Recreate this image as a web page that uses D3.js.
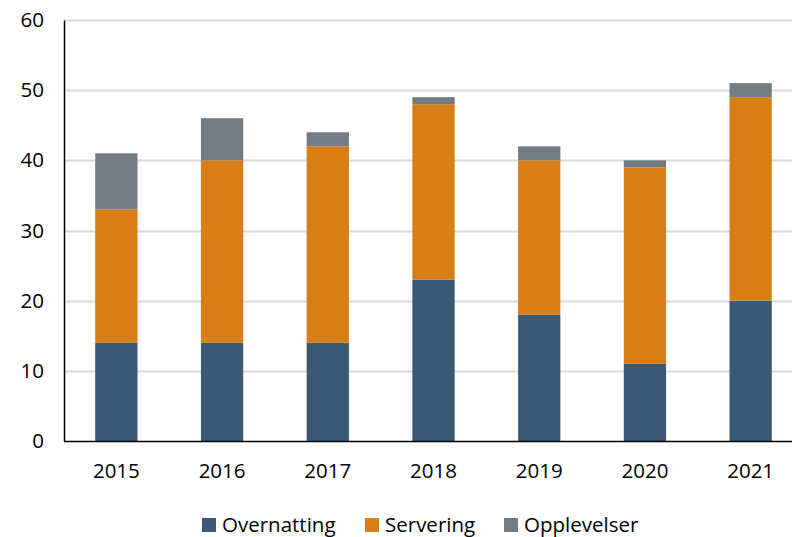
<!DOCTYPE html>
<html>
<head>
<meta charset="utf-8">
<script src="https://cdn.jsdelivr.net/npm/d3@7"></script>
<style>
  html, body { margin: 0; padding: 0; background: #fff; overflow: hidden; }
  svg { display: block; }
  text { font-family: "Open Sans", "Noto Sans", sans-serif; fill: #000; }
</style>
</head>
<body>
<svg id="chart" width="792" height="537"></svg>
<script>
// Years on the x axis
const years = ["2015", "2016", "2017", "2018", "2019", "2020", "2021"];
// Stacked series values
const overnatting = [14, 14, 14, 23, 18, 11, 20];
const servering   = [19, 26, 28, 25, 22, 28, 29];
const opplevelser = [8, 6, 2, 1, 2, 1, 2];
const seriesNames  = ["Overnatting", "Servering", "Opplevelser"];
const seriesColors = ["#3b5876", "#d87e17", "#737b83"];
const yTicks = [0, 10, 20, 30, 40, 50, 60];

const svg = d3.select("#chart");
const plotBottom = 441, plotTop = 20;
const fontSize = 20.5;

const rows = years.map((y, i) => ({
  year: y,
  Overnatting: overnatting[i],
  Servering: servering[i],
  Opplevelser: opplevelser[i]
}));

const x = d3.scaleBand().domain(years).range([63.5, 803.5]).paddingInner(0.6).paddingOuter(0.3);
const y = d3.scaleLinear().domain([0, 60]).range([plotBottom, plotTop]);
const color = d3.scaleOrdinal().domain(seriesNames).range(seriesColors);

// Horizontal gridlines
svg.append("g")
  .selectAll("line")
  .data(yTicks.filter(t => t > 0))
  .join("line")
  .attr("x1", 64).attr("x2", 792)
  .attr("y1", d => Math.round(y(d)) + 0.5).attr("y2", d => Math.round(y(d)) + 0.5)
  .attr("stroke", "#d9d9d9").attr("stroke-width", 2);

// Stacked bars
const stack = d3.stack().keys(seriesNames)(rows);
svg.append("g")
  .selectAll("g")
  .data(stack)
  .join("g")
  .attr("fill", d => color(d.key))
  .selectAll("rect")
  .data(d => d)
  .join("rect")
  .attr("x", d => x(d.data.year))
  .attr("width", x.bandwidth())
  .attr("y", d => y(d[1]))
  .attr("height", d => y(d[0]) - y(d[1]));

// Y axis
const yAxis = d3.axisLeft(y).tickValues(yTicks).tickSize(0).tickPadding(20);
const gy = svg.append("g").attr("transform", "translate(64,0)").call(yAxis);
gy.select(".domain").attr("stroke", "#000").attr("stroke-width", 1.5);
gy.selectAll("text").attr("font-size", fontSize).attr("font-family", "Open Sans, sans-serif").attr("fill", "#000");

// X axis
const xAxis = d3.axisBottom(x).tickSize(0).tickPadding(22);
const gx = svg.append("g").attr("transform", `translate(0,${plotBottom})`).call(xAxis);
gx.select(".domain").attr("stroke", "#000").attr("stroke-width", 1.5);
gx.selectAll("text").attr("font-size", fontSize).attr("font-family", "Open Sans, sans-serif").attr("fill", "#000");

// Legend
const legendX = [202, 365, 504];
const legend = svg.append("g").selectAll("g")
  .data(seriesNames)
  .join("g")
  .attr("transform", (d, i) => `translate(${legendX[i]},518)`);
legend.append("rect").attr("width", 14).attr("height", 14).attr("fill", d => color(d));
legend.append("text").attr("x", 20).attr("y", 13.5).attr("font-size", fontSize).text(d => d);
</script>
</body>
</html>
